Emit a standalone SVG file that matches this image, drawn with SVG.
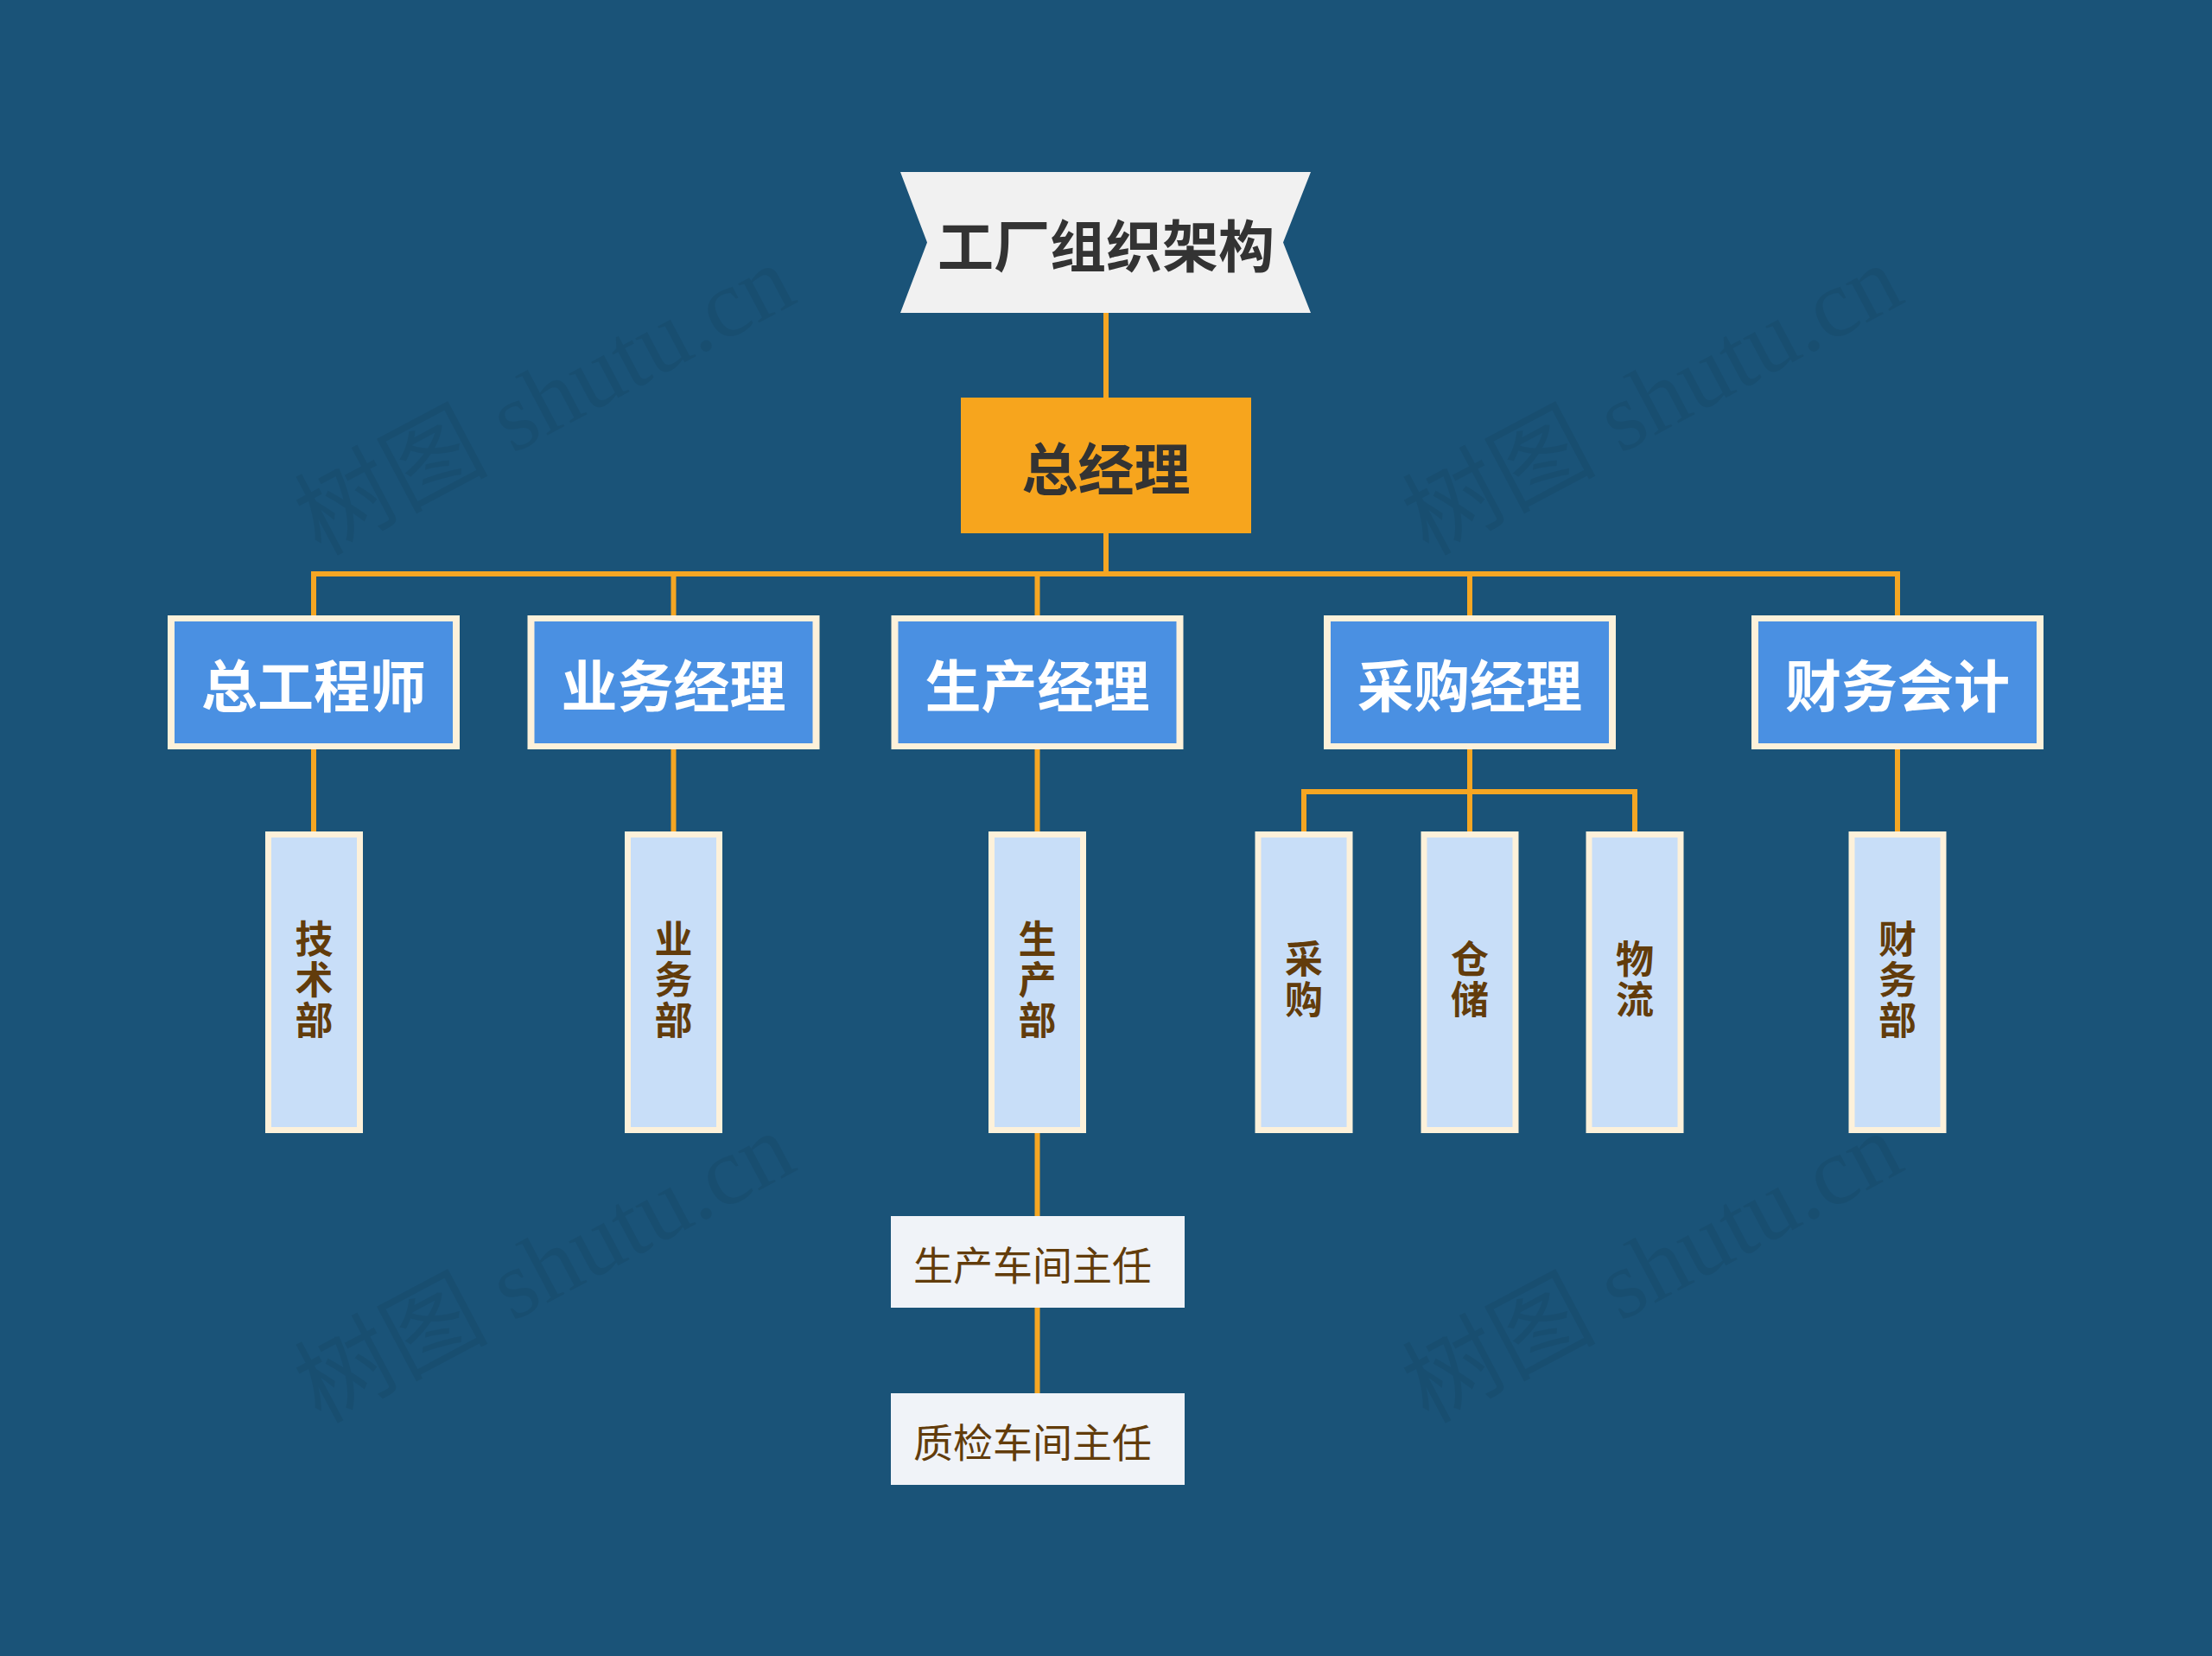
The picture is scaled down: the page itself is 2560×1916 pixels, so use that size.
<svg xmlns="http://www.w3.org/2000/svg" width="2560" height="1916" viewBox="0 0 2560 1916">
<style>
.cjk{font-family:"Noto Sans CJK SC","Noto Sans",sans-serif;}
.t1{font-size:65px;font-weight:bold;fill:#333333;}
.l1o{fill:#FDF1DA;}
.l1i{fill:#4A90E2;}
.l1t{font-size:65px;font-weight:bold;fill:#FFFFFF;}
.l2o{fill:#FDF1DA;}
.l2i{fill:#C8DEF8;}
.l2t{font-size:44px;font-weight:bold;fill:#623C0B;writing-mode:vertical-rl;text-orientation:upright;letter-spacing:3px;}
.l3{fill:#F0F3F8;}
.l3t{font-size:46px;fill:#623C0B;}
.wm{font-family:"Liberation Serif","Noto Sans CJK SC",serif;font-size:112px;fill:#000000;fill-opacity:0.06;}
.conn{stroke:#F5A623;stroke-width:6;fill:none;}
</style>
<rect x="0" y="0" width="2560" height="1916" fill="#1A5378"/>
<g id="watermarks">
<text class="wm" x="648" y="496" text-anchor="middle" transform="rotate(-28 648 496)">树图 shutu.cn</text>
<text class="wm" x="1930" y="496" text-anchor="middle" transform="rotate(-28 1930 496)">树图 shutu.cn</text>
<text class="wm" x="648" y="1500" text-anchor="middle" transform="rotate(-28 648 1500)">树图 shutu.cn</text>
<text class="wm" x="1930" y="1500" text-anchor="middle" transform="rotate(-28 1930 1500)">树图 shutu.cn</text>
</g>
<g id="connectors">
<path class="conn" d="M1280 362 V460"/>
<path class="conn" d="M1280 617 V664"/>
<path class="conn" d="M363 712 V664 H2196 V712"/>
<path class="conn" d="M779.5 664 V712"/>
<path class="conn" d="M1200.5 664 V712"/>
<path class="conn" d="M1701 664 V712"/>
<path class="conn" d="M363 867 V962"/>
<path class="conn" d="M779.5 867 V962"/>
<path class="conn" d="M1200.5 867 V962"/>
<path class="conn" d="M1701 867 V962"/>
<path class="conn" d="M1509 962 V916 H1892 V962"/>
<path class="conn" d="M2196 867 V962"/>
<path class="conn" d="M1200.5 1311 V1407"/>
<path class="conn" d="M1200.5 1513 V1612"/>
</g>
<g id="root">
<polygon points="1042,199 1517,199 1485,280.5 1517,362 1042,362 1073,280.5" fill="#F1F1F1"/>
<text class="cjk t1" x="1280" y="281" text-anchor="middle" dominant-baseline="central">工厂组织架构</text>
</g>
<g id="gm">
<rect x="1112" y="460" width="336" height="157" fill="#F7A51D"/>
<text class="cjk t1" x="1280" y="539" text-anchor="middle" dominant-baseline="central">总经理</text>
</g>
<g id="n-zgcs">
<rect class="l1o" x="194" y="712" width="338" height="155"/>
<rect class="l1i" x="202" y="719" width="322" height="141"/>
<text class="cjk l1t" x="363" y="790" text-anchor="middle" dominant-baseline="central">总工程师</text>
</g>
<g id="n-ywjl">
<rect class="l1o" x="610.5" y="712" width="338" height="155"/>
<rect class="l1i" x="618.5" y="719" width="322" height="141"/>
<text class="cjk l1t" x="779.5" y="790" text-anchor="middle" dominant-baseline="central">业务经理</text>
</g>
<g id="n-scjl">
<rect class="l1o" x="1031.5" y="712" width="338" height="155"/>
<rect class="l1i" x="1039.5" y="719" width="322" height="141"/>
<text class="cjk l1t" x="1200.5" y="790" text-anchor="middle" dominant-baseline="central">生产经理</text>
</g>
<g id="n-cgjl">
<rect class="l1o" x="1532" y="712" width="338" height="155"/>
<rect class="l1i" x="1540" y="719" width="322" height="141"/>
<text class="cjk l1t" x="1701" y="790" text-anchor="middle" dominant-baseline="central">采购经理</text>
</g>
<g id="n-cwkj">
<rect class="l1o" x="2027" y="712" width="338" height="155"/>
<rect class="l1i" x="2035" y="719" width="322" height="141"/>
<text class="cjk l1t" x="2196" y="790" text-anchor="middle" dominant-baseline="central">财务会计</text>
</g>
<g id="n-jsb">
<rect class="l2o" x="307" y="962" width="113" height="349"/>
<rect class="l2i" x="314" y="969" width="99" height="335"/>
<text class="cjk l2t" x="363.5" y="1135" text-anchor="middle">技术部</text>
</g>
<g id="n-ywb">
<rect class="l2o" x="723" y="962" width="113" height="349"/>
<rect class="l2i" x="730" y="969" width="99" height="335"/>
<text class="cjk l2t" x="779.5" y="1135" text-anchor="middle">业务部</text>
</g>
<g id="n-scb">
<rect class="l2o" x="1144" y="962" width="113" height="349"/>
<rect class="l2i" x="1151" y="969" width="99" height="335"/>
<text class="cjk l2t" x="1200.5" y="1135" text-anchor="middle">生产部</text>
</g>
<g id="n-cg">
<rect class="l2o" x="1452.5" y="962" width="113" height="349"/>
<rect class="l2i" x="1459.5" y="969" width="99" height="335"/>
<text class="cjk l2t" x="1509" y="1134" text-anchor="middle">采购</text>
</g>
<g id="n-cc">
<rect class="l2o" x="1644.5" y="962" width="113" height="349"/>
<rect class="l2i" x="1651.5" y="969" width="99" height="335"/>
<text class="cjk l2t" x="1701" y="1134" text-anchor="middle">仓储</text>
</g>
<g id="n-wl">
<rect class="l2o" x="1835.5" y="962" width="113" height="349"/>
<rect class="l2i" x="1842.5" y="969" width="99" height="335"/>
<text class="cjk l2t" x="1892" y="1134" text-anchor="middle">物流</text>
</g>
<g id="n-cwb">
<rect class="l2o" x="2139.5" y="962" width="113" height="349"/>
<rect class="l2i" x="2146.5" y="969" width="99" height="335"/>
<text class="cjk l2t" x="2196" y="1135" text-anchor="middle">财务部</text>
</g>
<g id="n-sccjzr">
<rect class="l3" x="1031" y="1407" width="340" height="106"/>
<text class="cjk l3t" x="1195" y="1461" text-anchor="middle" dominant-baseline="central">生产车间主任</text>
</g>
<g id="n-zjcjzr">
<rect class="l3" x="1031" y="1612" width="340" height="106"/>
<text class="cjk l3t" x="1195" y="1666" text-anchor="middle" dominant-baseline="central">质检车间主任</text>
</g>
</svg>
